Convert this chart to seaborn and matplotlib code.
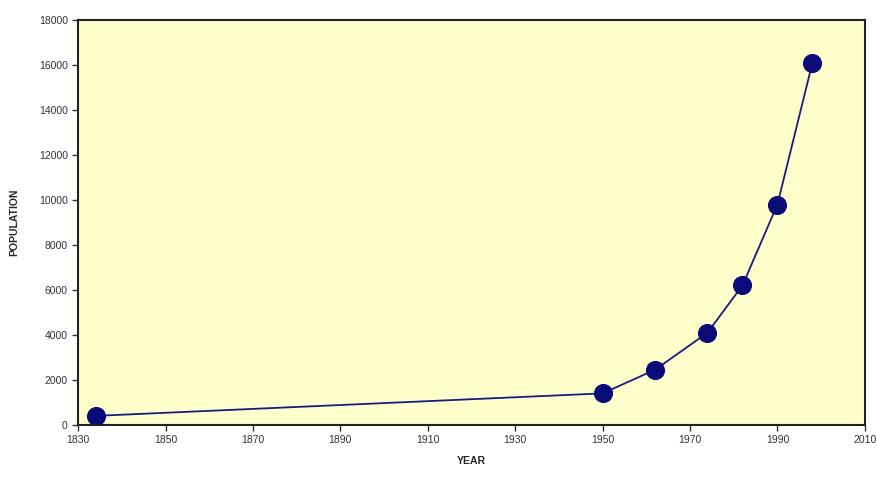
import matplotlib
matplotlib.use("Agg")
import matplotlib.pyplot as plt
import seaborn as sns
import pandas as pd

years = [1834, 1950, 1962, 1974, 1982, 1990, 1998]
population = [400, 1400, 2450, 4100, 6200, 9800, 16100]
x_ticks = [1830, 1850, 1870, 1890, 1910, 1930, 1950, 1970, 1990, 2010]
y_ticks = [0, 2000, 4000, 6000, 8000, 10000, 12000, 14000, 16000, 18000]

sns.set_theme(style="white")
plt.rcParams['font.family'] = ['Liberation Sans', 'DejaVu Sans']

df = pd.DataFrame({"YEAR": years, "POPULATION": population})

fig = plt.figure(figsize=(8.78, 4.79), dpi=100)
ax = fig.add_axes([0.089, 0.113, 0.896, 0.845])
ax.set_facecolor("#FFFFCC")

sns.lineplot(data=df, x="YEAR", y="POPULATION", ax=ax, color="#1a1a80",
             linewidth=1.3, marker="o", markersize=13, markerfacecolor="#0a0a78",
             markeredgecolor="#0a0a78", estimator=None, sort=False)

ax.set_xlim(1830, 2010)
ax.set_ylim(0, 18000)
ax.set_xticks(x_ticks)
ax.set_yticks(y_ticks)
ax.tick_params(axis="both", direction="out", length=4, width=1, labelsize=7.5,
               colors="#333333", bottom=True, left=True)
for s in ax.spines.values():
    s.set_color("#222222")
    s.set_linewidth(1.5)
ax.set_xlabel("YEAR", fontsize=7.5, fontweight="bold", labelpad=8)
ax.set_ylabel("POPULATION", fontsize=7.5, fontweight="bold", labelpad=14)

fig.savefig("out.png", dpi=100)
